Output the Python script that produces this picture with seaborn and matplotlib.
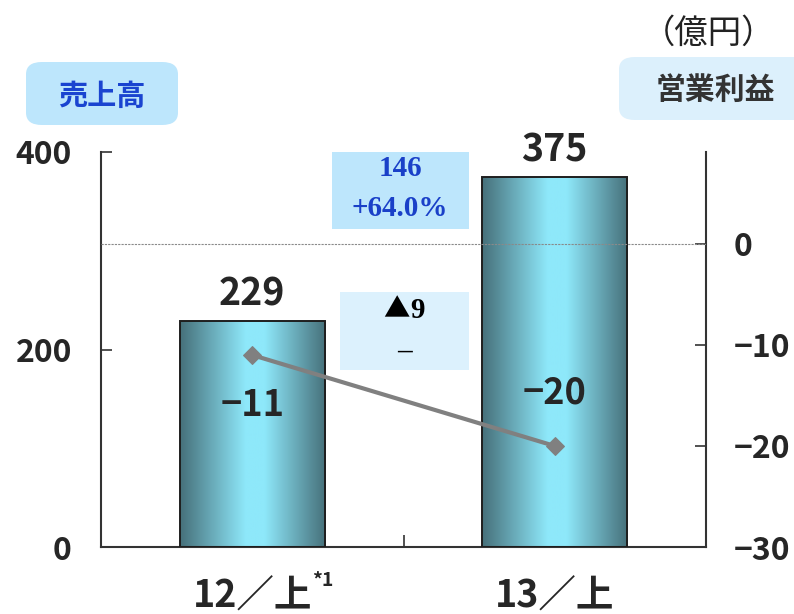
import numpy as np
import matplotlib
matplotlib.use("Agg")
import matplotlib.pyplot as plt
import seaborn as sns
from matplotlib.patches import Rectangle, FancyBboxPatch
from matplotlib.colors import LinearSegmentedColormap

# data
periods = ["12／上", "13／上"]
sales = [229, 375]            # 売上高 (left axis)
op_income = [-11, -20]        # 営業利益 (right axis)
left_ticks = [0, 200, 400]
right_ticks = [0, -10, -20, -30]
sales_diff = sales[1] - sales[0]
sales_pct = "+64.0%"
op_diff = op_income[1] - op_income[0]

sns.set_style("white")
plt.rcParams["font.family"] = ["Noto Sans CJK JP", "DejaVu Sans"]
NUM_W = "bold"

W, H = 794, 614
fig = plt.figure(figsize=(W / 100, H / 100), dpi=100)


def fx(x):
    return x / W


def fy(y):
    return 1 - y / H


# axes box: x 101..706, y 152..547 (pixels)
ax = fig.add_axes([fx(101), fy(547), fx(706) - fx(101), fy(152) - fy(547)])

sns.barplot(x=periods, y=sales, ax=ax, width=0.48, color="#7fd6ea",
            edgecolor="#1e1e1e", linewidth=1.4, zorder=2)

# gradient fill for the bars
grad = LinearSegmentedColormap.from_list(
    "cyl", [(0, "#46707a"), (0.45, "#8ee8fa"), (0.58, "#8ee8fa"), (1, "#46707a")])
g = np.linspace(0, 1, 256).reshape(1, -1)
for p in ax.patches:
    x0, y0 = p.get_x(), p.get_y()
    im = ax.imshow(g, cmap=grad, aspect="auto", zorder=2.5,
                   extent=(x0, x0 + p.get_width(), y0, y0 + p.get_height()))
    im.set_clip_path(p)
    p.set_facecolor("none")
    p.set_zorder(3)

ax.set_xlim(-0.5, len(periods) - 0.5)
ax.set_ylim(0, 400)
ax.set_yticks(left_ticks)
ax.set_yticklabels([str(t) for t in left_ticks])
ax.set_xticks(range(len(periods)))
ax.set_xticklabels(periods)
ax.set_xticks([0.5], minor=True)
ax.set_xlabel("")
ax.set_ylabel("")

ax.spines["top"].set_visible(False)
for s in ["left", "bottom", "right"]:
    ax.spines[s].set_color("#333333")
    ax.spines[s].set_linewidth(1.5)

ax.tick_params(axis="y", direction="in", length=8, width=1.2, color="#333333",
               labelsize=23, pad=21, left=True)
ax.tick_params(axis="x", which="major", length=0, labelsize=27, pad=21)
ax.tick_params(axis="x", which="minor", direction="in", length=9, width=1.2,
               color="#333333", bottom=True)
for lab in ax.get_yticklabels() + ax.get_xticklabels():
    lab.set_fontweight(NUM_W)

for i, v in enumerate(sales):
    ax.annotate(str(v), (i, v), xytext=(0, 11), textcoords="offset points",
                ha="center", va="baseline", fontsize=27, fontweight=NUM_W)

ax.annotate("*1", xy=(0, 0), xycoords=("data", "axes fraction"),
            xytext=(43, -24), textcoords="offset points",
            ha="left", va="center", fontsize=14, fontweight="bold")

# operating income on the right axis
ax2 = ax.twinx()
ax2.set_ylim(-30, 9.1)
ax2.axhline(0, color="#8a8a8a", lw=0.8, ls=(0, (2, 1)), zorder=1)
sns.lineplot(x=np.arange(len(op_income)), y=op_income, ax=ax2, color="#808080",
             lw=3, marker="D", markersize=9.5, markeredgecolor="#808080", zorder=4)
ax2.set_yticks(right_ticks)
ax2.tick_params(axis="y", direction="in", length=8, width=1.2, color="#333333",
                labelsize=23, pad=20, right=True)
for lab in ax2.get_yticklabels():
    lab.set_fontweight(NUM_W)
ax2.set_xlim(-0.5, len(periods) - 0.5)
ax2.set_ylabel("")
for s in ax2.spines.values():
    s.set_visible(False)

label_offsets = [-36, 38]
for i, v in enumerate(op_income):
    ax2.annotate(f"−{abs(v)}" if v < 0 else str(v), (i, v),
                 xytext=(0, label_offsets[i]), textcoords="offset points",
                 ha="center", va="center", fontsize=26, fontweight=NUM_W)

# header boxes
fig.add_artist(FancyBboxPatch((fx(26), fy(125)), fx(178) - fx(26), fy(62) - fy(125),
                              boxstyle="round,pad=0,rounding_size=0.02",
                              fc="#bde6fc", ec="none"))
fig.text(fx(102), fy(96), "売上高", ha="center", va="center", fontsize=21,
         fontweight="bold", color="#1a44d0")

fig.add_artist(FancyBboxPatch((fx(619), fy(120)), fx(820) - fx(619), fy(57) - fy(120),
                              boxstyle="round,pad=0,rounding_size=0.02",
                              fc="#dcf0fc", ec="none"))
fig.text(fx(715), fy(90), "営業利益", ha="center", va="center", fontsize=21.5,
         fontweight="bold", color="#333333")

fig.text(fx(709), fy(33), "（億円）", ha="center", va="center", fontsize=24,
         color="#222222")

# change boxes
fig.add_artist(Rectangle((fx(332), fy(229)), fx(469) - fx(332), fy(152) - fy(229),
                         fc="#bde6fc", ec="none"))
fig.text(fx(400), fy(168), str(sales_diff), ha="center", va="center",
         fontsize=21, fontweight="bold", color="#1a40c8", family="Liberation Serif")
fig.text(fx(400), fy(209), sales_pct, ha="center", va="center",
         fontsize=21, fontweight="bold", color="#1a40c8", family="Liberation Serif")

fig.add_artist(Rectangle((fx(340), fy(370)), fx(469) - fx(340), fy(292) - fy(370),
                         fc="#dcf1fd", ec="none"))
fig.text(fx(410), fy(310), "▲", ha="right", va="center",
         fontsize=19, color="black", family="Noto Sans CJK JP")
fig.text(fx(410), fy(310), str(abs(op_diff)), ha="left", va="center",
         fontsize=21, fontweight="bold", color="black", family="Liberation Serif")
fig.text(fx(404), fy(351), "–", ha="center", va="center",
         fontsize=21, fontweight="bold", color="black", family="Liberation Serif")

fig.savefig("out.png", dpi=100)
